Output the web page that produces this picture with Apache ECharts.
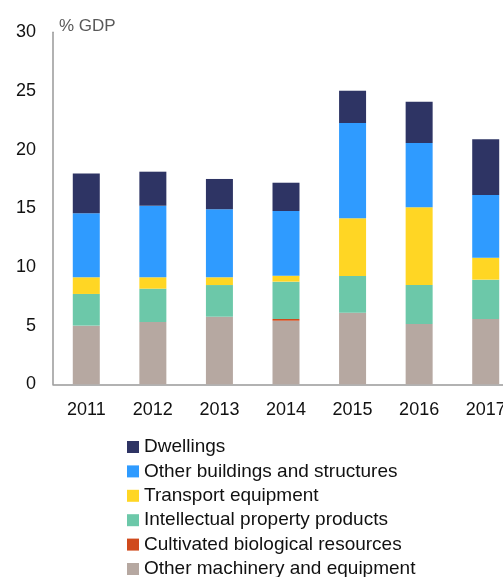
<!DOCTYPE html>
<html>
<head>
<meta charset="utf-8">
<script src="https://cdn.jsdelivr.net/npm/echarts@6/dist/echarts.min.js"></script>
<style>html,body{margin:0;padding:0;background:#fff;}#c{width:503px;height:577px;}</style>
</head>
<body>
<div id="c"></div>
<script>
var years = ['2011','2012','2013','2014','2015','2016','2017'];
var machinery  = [5.0, 5.31, 5.76, 5.42, 6.1, 5.14, 5.57];
var cultivated = [0, 0, 0, 0.15, 0, 0, 0];
var ipp        = [2.7, 2.84, 2.7, 3.18, 3.13, 3.32, 3.35];
var transport  = [1.42, 0.97, 0.66, 0.51, 4.92, 6.63, 1.87];
var buildings  = [5.45, 6.1, 5.8, 5.51, 8.12, 5.48, 5.34];
var dwellings  = [3.4, 2.9, 2.58, 2.41, 2.75, 3.52, 4.75];
var yTicks = [0, 5, 10, 15, 20, 25, 30];

var names = ['Other machinery and equipment','Cultivated biological resources','Intellectual property products','Transport equipment','Other buildings and structures','Dwellings'];
var colors = ['#B6A8A1','#D04A1C','#6CC8A9','#FFD624','#2F9BFF','#2E3464'];
var datas = [machinery, cultivated, ipp, transport, buildings, dwellings];

var chart = echarts.init(document.getElementById('c'));
var series = names.map(function(n, i){
  return {
    name: n, type: 'bar', stack: 'total', barWidth: 27,
    data: datas[i], itemStyle: {color: colors[i]},
    emphasis: {disabled: true}
  };
});
chart.setOption({
  animation: false,
  title: {text: '% GDP', left: 54, top: 13, textStyle: {fontSize: 17, fontWeight: 'normal', color: '#595959', fontFamily: 'Liberation Sans'}},
  grid: {left: 53, top: 32.3, width: 466, height: 352, containLabel: false, outerBoundsMode: 'none'},
  xAxis: {
    type: 'category', data: years,
    axisLine: {lineStyle: {color: '#999', width: 1.5}},
    axisTick: {show: false},
    axisLabel: {fontSize: 18, color: '#111', margin: 17, fontFamily: 'Liberation Sans'}
  },
  yAxis: {
    type: 'value', min: yTicks[0], max: yTicks[yTicks.length-1], interval: 5,
    splitLine: {show: false},
    axisLine: {show: true, lineStyle: {color: '#999', width: 1.5}},
    axisTick: {show: false},
    axisLabel: {fontSize: 18, color: '#111', margin: 17, fontFamily: 'Liberation Sans'}
  },
  legend: {
    orient: 'vertical', left: 122, top: 432, height: 200,
    data: names.slice().reverse(),
    icon: 'rect', itemWidth: 12, itemHeight: 12, itemGap: 4.4,
    textStyle: {fontSize: 19, lineHeight: 20, color: '#111', fontFamily: 'Liberation Sans'}
  },
  series: series
});
</script>
</body>
</html>
